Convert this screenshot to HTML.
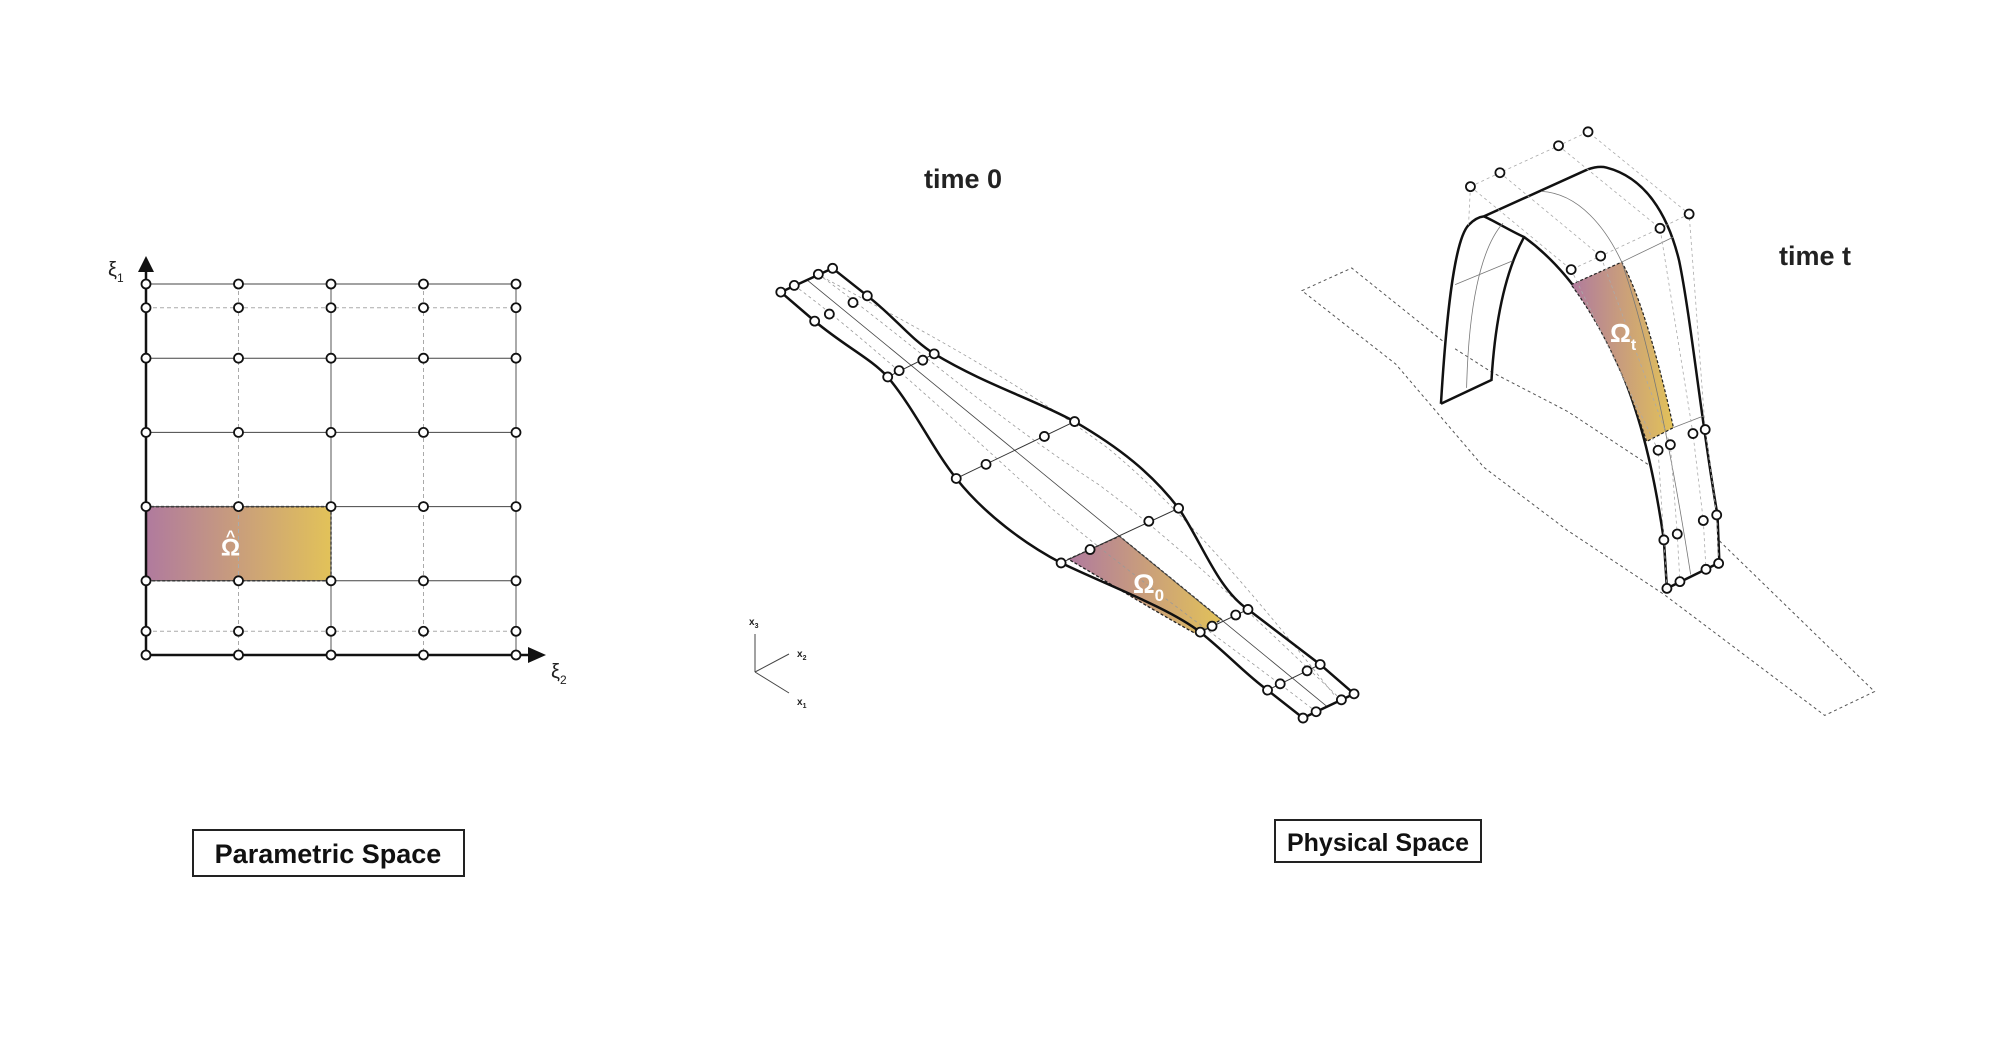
<!DOCTYPE html>
<html><head><meta charset="utf-8"><style>
html,body{margin:0;padding:0;background:#fff;}
svg{display:block;font-family:"Liberation Sans",sans-serif;}
</style></head><body>
<svg id="fig" width="2004" height="1053" viewBox="0 0 2004 1053" xmlns="http://www.w3.org/2000/svg">
<defs>
<linearGradient id="g1" x1="0" y1="0" x2="1" y2="0"><stop offset="0" stop-color="#b07a9e"/><stop offset="1" stop-color="#e2c259"/></linearGradient>
<linearGradient id="g2" gradientUnits="userSpaceOnUse" x1="805" y1="0" x2="1180" y2="0"><stop offset="0" stop-color="#b07a9e"/><stop offset="1" stop-color="#e2c259"/></linearGradient>
<linearGradient id="g3" gradientUnits="userSpaceOnUse" x1="708" y1="0" x2="975" y2="0"><stop offset="0" stop-color="#b07a9e"/><stop offset="1" stop-color="#e2c259"/></linearGradient>
</defs>
<g id="param"></g>
<g id="phys0" transform="translate(740,150) scale(0.408,0.372)">
<path d="M805,1100 L930,1038 L1180,1262 L1120,1302 C1000,1230 900,1160 805,1100Z" fill="url(#g2)" stroke="#222" stroke-width="1.3" stroke-dasharray="3,2" vector-effect="non-scaling-stroke"/>
<g fill="none" stroke="#999" stroke-width="0.8" stroke-dasharray="3,3">
<path vector-effect="non-scaling-stroke" d="M133,364 C300,500 500,700 760,960 C1000,1180 1200,1330 1412,1510"/>
<path vector-effect="non-scaling-stroke" d="M192,334 C400,500 600,700 880,900 C1100,1080 1300,1300 1474,1478"/>
<path vector-effect="non-scaling-stroke" d="M200,340 C420,470 650,600 900,800 C1100,980 1300,1250 1460,1470"/>
</g>
<path vector-effect="non-scaling-stroke" d="M165,350 L1440,1497" fill="none" stroke="#444" stroke-width="0.8"/>
<path vector-effect="non-scaling-stroke" d="M227,318 L312,392 C380,450 420,510 476,548 C600,630 720,670 820,730 C930,800 1010,870 1075,963 C1130,1050 1170,1180 1245,1235 L1422,1383 L1505,1462" fill="none" stroke="#111" stroke-width="2.5"/>
<path vector-effect="non-scaling-stroke" d="M100,382 L183,460 C260,530 320,560 362,610 C430,700 470,800 530,883 C600,980 700,1060 787,1110 C900,1170 1050,1230 1128,1296 C1200,1360 1240,1410 1293,1452 L1380,1527" fill="none" stroke="#111" stroke-width="2.5"/>
<path vector-effect="non-scaling-stroke" d="M100,382 L227,318 M1380,1527 L1505,1462" stroke="#111" stroke-width="2.5" fill="none"/>
<path vector-effect="non-scaling-stroke" d="M362,610 L476,548 M530,883 L820,730 M787,1110 L1075,963 M1128,1296 L1245,1235 M1293,1452 L1422,1383" stroke="#333" stroke-width="1" fill="none"/>
</g>
<text x="924" y="188" font-size="27" font-weight="bold" fill="#222">time 0</text>
<text x="1133" y="593" font-size="27" font-weight="bold" fill="#fff">Ω<tspan font-size="17" dy="8">0</tspan></text>
<g stroke="#444" stroke-width="1" fill="none">
<path d="M755,672 L755,634 M755,672 L789,654 M755,672 L789,693"/>
</g>
<g font-size="10" fill="#222" font-weight="bold">
<text x="749" y="625">x<tspan font-size="7" dy="3">3</tspan></text>
<text x="797" y="657">x<tspan font-size="7" dy="3">2</tspan></text>
<text x="797" y="705">x<tspan font-size="7" dy="3">1</tspan></text>
</g>
<g id="physt" transform="translate(1300,110) scale(0.383,0.397)">
<path vector-effect="non-scaling-stroke" d="M5,455 L135,398 L370,580 L500,660 L700,760 L920,900 L1100,1090 L1500,1465 L1370,1525 L950,1220 L700,1060 L480,900 L250,640 Z" fill="none" stroke="#555" stroke-width="1" stroke-dasharray="3,3"/>
<path vector-effect="non-scaling-stroke" d="M368,740 C380,550 400,330 440,290 Q460,270 480,268 L750,150 Q780,140 800,145 C900,170 960,260 990,380 C1020,520 1050,800 1090,1020 L1095,1140 L958,1205 L950,1083 C930,950 900,800 840,660 C780,520 700,400 585,320 C540,300 500,275 480,268" fill="#fff" stroke="#111" stroke-width="2.5"/>
<path vector-effect="non-scaling-stroke" d="M585,320 C540,400 510,520 500,680 L368,740" fill="none" stroke="#111" stroke-width="2.5"/>
<path vector-effect="non-scaling-stroke" d="M708,440 L840,383 C880,450 930,600 975,800 L905,835 C860,700 800,560 708,440Z" fill="url(#g3)" stroke="#222" stroke-width="1.2" stroke-dasharray="3,2"/>
<g fill="none" stroke="#777" stroke-width="0.8">
<path vector-effect="non-scaling-stroke" d="M435,700 C440,500 470,350 530,285"/>
<path vector-effect="non-scaling-stroke" d="M630,205 C730,210 800,300 840,383 C900,550 960,800 1020,1170"/>
<path vector-effect="non-scaling-stroke" d="M405,440 L555,380 M840,383 L975,320 M975,800 L1055,770"/>
</g>
<g fill="none" stroke="#aaa" stroke-width="0.8" stroke-dasharray="3,3">
<path vector-effect="non-scaling-stroke" d="M445,193 L522,158 L675,90 L752,55 L1016,262 L1058,805 L1088,1020 L1093,1142"/>
<path vector-effect="non-scaling-stroke" d="M445,193 L440,290 M522,158 L785,368 L967,843 L985,1068 L992,1188 M675,90 L940,298 L1026,815 L1053,1034 L1060,1157 M708,402 L935,857 L950,1083 L958,1205"/>
<path vector-effect="non-scaling-stroke" d="M445,193 L708,402 L785,368 L940,298 L1016,262"/>
</g>
</g>
<text x="1779" y="265" font-size="27" font-weight="bold" fill="#222">time t</text>
<text x="1610" y="342" font-size="26" font-weight="bold" fill="#fff">Ω<tspan font-size="16" dy="8">t</tspan></text>
<g id="circles"></g>
<g>
<rect x="193" y="830" width="271" height="46" fill="#fff" stroke="#222" stroke-width="2"/>
<text x="328" y="863" text-anchor="middle" font-size="27" font-weight="bold" fill="#111">Parametric Space</text>
</g>
<g>
<rect x="1275" y="820" width="206" height="42" fill="#fff" stroke="#222" stroke-width="2"/>
<text x="1378" y="851" text-anchor="middle" font-size="25" font-weight="bold" fill="#111">Physical Space</text>
</g>
</svg>
<script>
const NS='http://www.w3.org/2000/svg';
const colKnots=[0,0.25,0.5,0.75,1];
const colSolid=[true,false,true,false,true];
const rowKnots=[1,0.92,0.75,0.5,0.25,0,-0.17,-0.25];
const rowSolid=[true,false,true,true,true,true,false,true];
const elemU=[0,0.5];
const elemV=[0.25,0];
const x0=146,x1=516,yTop=284,yBot=655;
const sx=u=>x0+(x1-x0)*u;
const sy=v=>yBot-(yBot-yTop)*(v-(-0.25))/1.25;
function mk(tag,at,parent){const e=document.createElementNS(NS,tag);for(const k in at)e.setAttribute(k,at[k]);parent.appendChild(e);return e;}
const P=document.getElementById('param');
const el=mk('rect',{x:sx(elemU[0]),y:sy(elemV[0]),width:sx(elemU[1])-sx(elemU[0]),height:sy(elemV[1])-sy(elemV[0]),fill:'url(#g1)',stroke:'#222','stroke-width':1.5,'stroke-dasharray':'3,2'},P);


rowKnots.forEach((v,i)=>{const l=mk('line',{x1:sx(0),x2:sx(1),y1:sy(v),y2:sy(v),stroke:rowSolid[i]?'#444':'#aaa','stroke-width':rowSolid[i]?1:0.9,'stroke-dasharray':rowSolid[i]?'none':'4,3'},P);

});
colKnots.forEach((u,i)=>{const l=mk('line',{x1:sx(u),x2:sx(u),y1:sy(1),y2:sy(-0.25),stroke:colSolid[i]?'#555':'#aaa','stroke-width':1,'stroke-dasharray':colSolid[i]?'none':'4,3'},P);

});
const cxm=(sx(elemU[0])+sx(elemU[1]))/2-8, cym=(sy(elemV[0])+sy(elemV[1]))/2;
const om=mk('text',{x:cxm,y:cym+12,'font-size':24,'font-weight':'bold',fill:'#fff','text-anchor':'middle'},P);om.textContent='Ω';


const hat=mk('text',{x:cxm,y:cym-2,'font-size':16,'font-weight':'bold',fill:'#fff','text-anchor':'middle'},P);hat.textContent='^';


const ax=mk('path',{d:`M${sx(0)},${sy(-0.25)} L${sx(0)},${yTop-14} M${sx(0)},${sy(-0.25)} L${x1+14},${sy(-0.25)}`,stroke:'#111','stroke-width':2.5,fill:'none'},P);


const ar=mk('path',{d:`M${x0-8},${yTop-12} L${x0+8},${yTop-12} L${x0},${yTop-28}Z M${x1+12},${yBot-8} L${x1+12},${yBot+8} L${x1+30},${yBot}Z`,fill:'#111'},P);


const PC=[];
colKnots.forEach(u=>rowKnots.forEach(v=>PC.push([sx(u),sy(v)])));
const t1=mk('text',{x:108,y:276,'font-size':20,fill:'#222'},P);t1.textContent='ξ';


mk('tspan',{'font-size':12,dy:6},t1).textContent='1';
const t2=mk('text',{x:551,y:678,'font-size':20,fill:'#222'},P);t2.textContent='ξ';


mk('tspan',{'font-size':12,dy:6},t2).textContent='2';
const cp0=[[100,382],[133,364],[192,334],[227,318],[312,392],[277,410],[219,441],[183,460],[362,610],[390,593],[448,565],[476,548],[530,883],[603,845],[746,770],[820,730],[787,1110],[858,1074],[1002,998],[1075,963],[1128,1296],[1157,1280],[1215,1250],[1245,1235],[1293,1452],[1324,1435],[1390,1400],[1422,1383],[1380,1527],[1412,1510],[1474,1478],[1505,1462]];
const cpt=[[445,193],[522,158],[675,90],[752,55],[1016,262],[940,298],[785,368],[708,402],[935,857],[967,843],[1026,815],[1058,805],[950,1083],[985,1068],[1053,1034],[1088,1020],[958,1205],[992,1188],[1060,1157],[1093,1142]];
const C=document.getElementById('circles');
const all=PC.concat(cp0.map(p=>[740+p[0]*0.408,150+p[1]*0.372]),cpt.map(p=>[1300+p[0]*0.383,110+p[1]*0.397]));
all.forEach(p=>{const c=mk('circle',{cx:p[0],cy:p[1],r:4.5,fill:'#fff',stroke:'#111','stroke-width':1.8},C);

});
</script>
</body></html>
